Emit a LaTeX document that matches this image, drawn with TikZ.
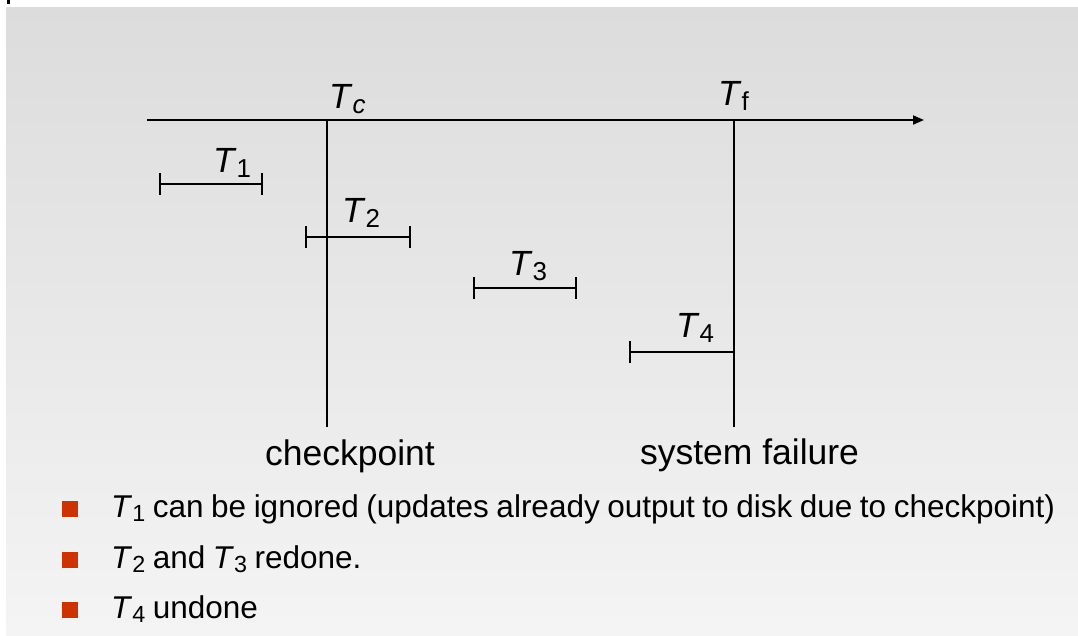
\documentclass[tikz,border=0pt]{standalone}
\usepackage{fontspec}
\usepackage{graphicx}
\setmainfont{Liberation Sans}
\usetikzlibrary{arrows.meta}
\definecolor{bgtop}{RGB}{220,220,220}
\definecolor{bgbot}{RGB}{244,244,244}
\definecolor{bulletred}{RGB}{204,51,0}
\newcommand\Tx[1]{\textit{T}\raisebox{-0.15em}{\scalebox{0.74}{#1}}}
\newcommand\tightsp{\spaceskip=0.24em plus 0.05em minus 0.05em\relax}
\begin{document}
\begin{tikzpicture}[x=1pt,y=-1pt,
  lbl/.style={inner sep=0pt, anchor=base west, font=\fontsize{35}{42}\selectfont},
  capt/.style={inner sep=0pt, anchor=base, font=\fontsize{35.5}{42}\selectfont},
  item/.style={inner sep=0pt, anchor=base west, font=\fontsize{31.5}{38}\selectfont\tightsp},
  bul/.style={fill=bulletred, minimum size=16pt, inner sep=0pt, draw=none, anchor=south west},
  ln/.style={line width=1.8pt},
  span/.style={line width=1.8pt, {Bar[width=22pt]}-{Bar[width=22pt]}},
  lspan/.style={line width=1.8pt, {Bar[width=22pt]}-}
]
\useasboundingbox (0,0) rectangle (1078,635);
\fill[white] (0,0) rectangle (1078,635);
\shade[top color=bgtop, bottom color=bgbot] (6,7) rectangle (1078,635);
\fill[black] (7,0) rectangle (9.5,4);

% axis and verticals
\coordinate (a0) at (147,120);
\coordinate (a1) at (924,120);
\coordinate (c0) at (327,120);
\coordinate (c1) at (327,427);
\coordinate (f0) at (734,120);
\coordinate (f1) at (734,427);
\draw[ln,-{Triangle[length=11pt,width=9pt]}] (a0) -- (a1);
\draw[ln] (c0) -- (c1);
\draw[ln] (f0) -- (f1);

% transactions
\coordinate (t1a) at (159,184);
\coordinate (t1b) at (263,184);
\coordinate (t2a) at (305,237);
\coordinate (t2b) at (411,237);
\coordinate (t3a) at (473,288);
\coordinate (t3b) at (577,288);
\coordinate (t4a) at (629,352);
\coordinate (t4b) at (734,352);
\draw[span] (t1a) -- (t1b);
\draw[span] (t2a) -- (t2b);
\draw[span] (t3a) -- (t3b);
\draw[lspan] (t4a) -- (t4b);

% labels
\node[lbl] (Tc) at (329,108) {\Tx{\itshape c}};
\node[lbl] (Tf) at (718,105) {\Tx{f}};
\node[lbl] (T1) at (213,172) {\Tx{1}};
\node[lbl] (T2) at (342,222) {\Tx{2}};
\node[lbl] (T3) at (509,275) {\Tx{3}};
\node[lbl] (T4) at (676,337) {\Tx{4}};
\node[capt] (cp) at (350,465) {checkpoint};
\node[capt] (sf) at (749.5,464) {system failure};

% bullets
\node[bul] (b1) at (62,517) {};
\node[bul] (b2) at (62,568) {};
\node[bul] (b3) at (62,618) {};
\node[item] (i1) at (111,517) {\Tx{1} can be ignored (updates already output to disk due to checkpoint)};
\node[item] (i2) at (111,568) {\Tx{2} and \Tx{3} redone.};
\node[item] (i3) at (111,618) {\Tx{4} undone};
\end{tikzpicture}
\end{document}
